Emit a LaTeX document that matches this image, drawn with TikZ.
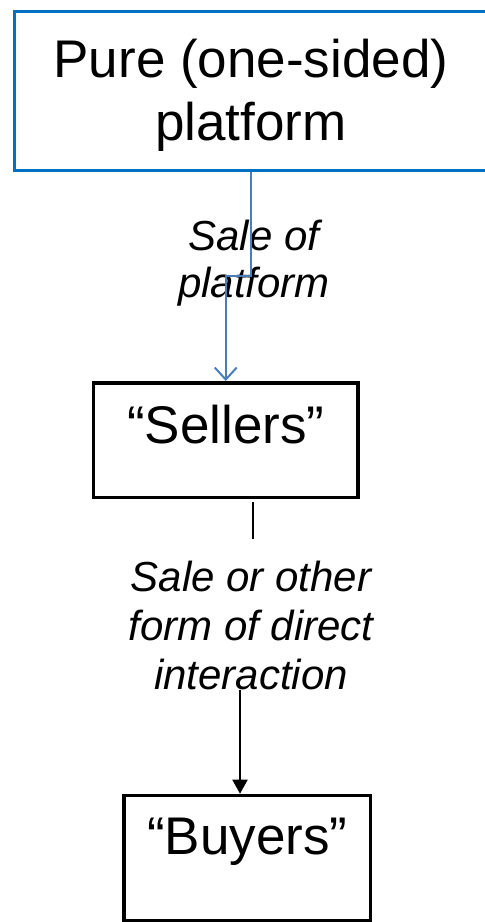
\documentclass[tikz,border=0pt]{standalone}
\usepackage{fontspec}
\setmainfont{Liberation Sans}
\usetikzlibrary{arrows.meta}
\usetikzlibrary{calc}
\definecolor{platblue}{RGB}{0,112,192}
\definecolor{linkblue}{RGB}{74,126,187}

\begin{document}
\begin{tikzpicture}[
        x=1pt, y=-1pt,
        platbox/.style={draw=platblue, line width=3pt, minimum width=700pt, minimum height=158.5pt, anchor=west},
        agentbox/.style={draw, line width=3.5pt, inner ysep=0pt, anchor=north, font=\fontsize{53}{60}\selectfont},
        lbl/.style={inner sep=0pt, anchor=north, align=center},
        link/.style={line width=2pt}
    ]
        \useasboundingbox (0,0) rectangle (485,922);
        \clip (0,0) rectangle (485,922); % Marco de la imagen

        % --- Cajas ---
        \node[platbox] (plat) at (13,90.75) {};
        \node[align=center, font=\fontsize{53}{63}\selectfont] (plattitle) at (251,90.75) {\rule{0pt}{47pt}Pure (one-sided)\\platform};
        \node[agentbox, minimum width=264.5pt, text height=61pt, text depth=53.5pt] (sellers) at (225.75,381) {“Sellers”};
        \node[agentbox, minimum width=246.5pt, text height=59.3pt, text depth=65.5pt] (buyers) at (247.25,793.7) {“Buyers”};

        % --- Etiquetas ---
        \node[lbl, font=\fontsize{42}{47}\selectfont\itshape] (salelbl) at (254,220) {Sale of\\platform};
        \node[lbl, font=\fontsize{42}{49}\selectfont\itshape] (directlbl) at (251,561) {Sale or other\\form of direct\\interaction};

        % --- Conectores ---
        \coordinate (platout) at (plattitle.center |- plat.south);
        \coordinate (bend) at ($(platout)!0.5!(sellers.north)$);
        \draw[link, linkblue, -{Straight Barb[length=12pt,width=22pt]}] (platout) |- (bend) -| (sellers.north);

        \coordinate (stubA) at (253.3,502);
        \coordinate (stubB) at (253.3,539);
        \draw[link] (stubA) -- (stubB); % Tramo corto

        \coordinate (arrtop) at (240,690);
        \draw[link, -{Triangle[length=14pt,width=15pt]}] (arrtop) -- (arrtop |- buyers.north);

    \end{tikzpicture}
\end{document}
